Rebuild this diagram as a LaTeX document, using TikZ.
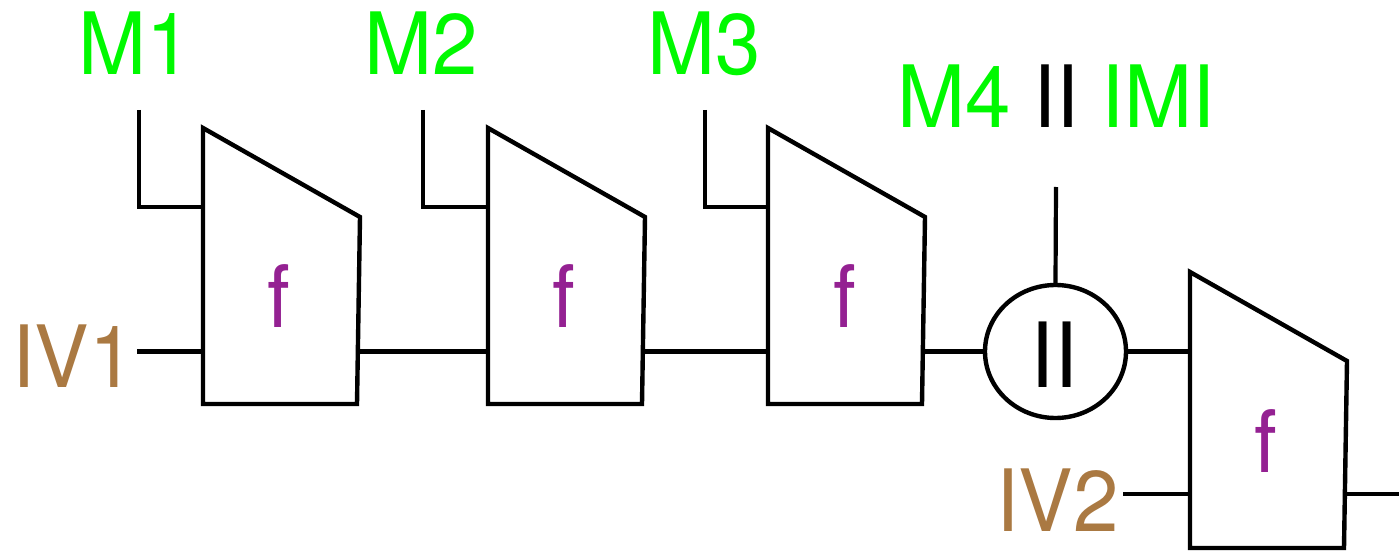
\documentclass[tikz,border=0pt]{standalone}
\usepackage{fontspec}
\setmainfont[FakeStretch=0.95]{TeX Gyre Heros}
\usetikzlibrary{shapes.geometric}
\definecolor{msggreen}{HTML}{00F900}
\definecolor{ivbrown}{HTML}{AA7942}
\definecolor{fplum}{HTML}{942192}
\begin{document}
\begin{tikzpicture}[x=0.5pt,y=-0.5pt,line width=2.2pt,line join=miter,
  lbl/.style={inner sep=0pt,font=\fontsize{43}{47}\selectfont},
  msg/.style={lbl,text=msggreen,anchor=base},
  iv/.style={lbl,text=ivbrown,anchor=base east},
  fn/.style={lbl,text=fplum,anchor=base},
  wire/.style={draw=black,line width=2.1pt}]
\useasboundingbox (0,0) rectangle (1399,551);

% compression blocks: left x, top y
\foreach \n/\L/\T in {1/203/128, 2/488/128, 3/768/128, 4/1190/272}{
  \coordinate (b\n-tl) at (\L,\T);
  \coordinate (b\n-tr) at (\L+157,\T+89);
  \coordinate (b\n-br) at (\L+154,\T+276);
  \coordinate (b\n-bl) at (\L,\T+276);
  \draw (b\n-tl) -- (b\n-tr) -- (b\n-br) -- (b\n-bl) -- cycle;
}
\node[fn] (f1) at (279,327) {f};
\node[fn] (f2) at (564,327) {f};
\node[fn] (f3) at (845,327) {f};
\node[fn] (f4) at (1266,472) {f};

% chaining points on block edges
\coordinate (b1-in)  at (203,351.5);
\coordinate (b1-out) at (358.5,351.5);
\coordinate (b2-in)  at (488,351.5);
\coordinate (b2-out) at (643.5,351.5);
\coordinate (b3-in)  at (768,351.5);
\coordinate (b3-out) at (923.5,351.5);
\coordinate (b4-in)  at (1190,351.5);
\coordinate (b4-iv)  at (1190,494);
\coordinate (b4-out) at (1345.5,494);
\coordinate (b1-m) at (203,207);
\coordinate (b2-m) at (488,207);
\coordinate (b3-m) at (768,207);

% message inputs
\node[msg] (m1) at (135,75) {M1};
\node[msg] (m2) at (421.5,75) {M2};
\node[msg] (m3) at (704,75) {M3};
\coordinate (m1-end) at (139,110);
\coordinate (m2-end) at (423,110);
\coordinate (m3-end) at (705,110);
\draw[wire] (m1-end) |- (b1-m);
\draw[wire] (m2-end) |- (b2-m);
\draw[wire] (m3-end) |- (b3-m);

% initial values
\node[iv] (iv1) at (137,387) {IV1};
\node[iv] (iv2) at (1121,531) {IV2};
\coordinate (iv1-end) at (137,351.5);
\coordinate (iv2-end) at (1123,494);
\draw[wire] (iv1-end) -- (b1-in);
\draw[wire] (iv2-end) -- (b4-iv);

% chaining values
\draw[wire] (b1-out) -- (b2-in);
\draw[wire] (b2-out) -- (b3-in);

% concatenation
\node[draw,ellipse,minimum width=70.5pt,minimum height=66.5pt,inner sep=0pt] (cat) at (1055.5,351.5) {};
\node[lbl,anchor=base,font=\fontsize{45}{49}\selectfont] (cattxt) at (1054.5,387) {II};
\draw[wire] (b3-out) -- (cat.west);
\draw[wire] (cat.east) -- (b4-in);
\node[lbl,anchor=base] (m4) at (1056.5,128)
  {\textcolor{msggreen}{M4} II \textcolor{msggreen}{IMI}};
\coordinate (m4-end) at (1056,187);
\draw[wire] (m4-end) -- (cat.north);

% output
\coordinate (out) at (1399,494);
\draw[wire] (b4-out) -- (out);
\end{tikzpicture}
\end{document}
